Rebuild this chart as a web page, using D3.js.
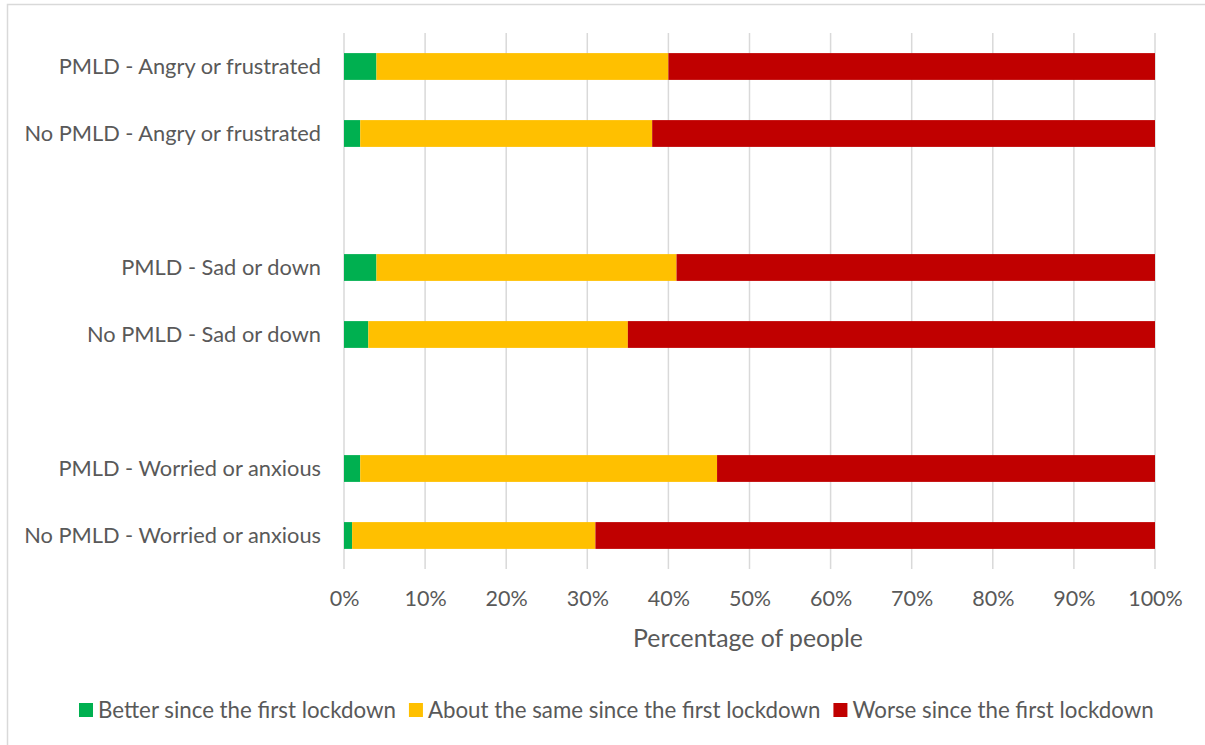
<!DOCTYPE html>
<html><head><meta charset="utf-8">
<script src="https://cdn.jsdelivr.net/npm/d3@7"></script>
<style>body{margin:0;background:#fff}svg{display:block}text{font-family:Lato,"Open Sans",sans-serif;fill:#595959}</style>
</head><body>
<svg id="c" width="1205" height="745"></svg>
<script>
const categories = ["PMLD - Angry or frustrated","No PMLD - Angry or frustrated"," ","PMLD - Sad or down","No PMLD - Sad or down","  ","PMLD - Worried or anxious","No PMLD - Worried or anxious"];
const better = [4,2,null,4,3,null,2,1];
const same = [36,36,null,37,32,null,44,30];
const worse = [60,62,null,59,65,null,54,69];
const seriesNames = ["Better since the first lockdown","About the same since the first lockdown","Worse since the first lockdown"];
const colors = ["#00B050","#FFC000","#C00000"];
const xTicks = [0,10,20,30,40,50,60,70,80,90,100];
const axisTitle = "Percentage of people";

const svg = d3.select("#c");
svg.append("path").attr("d","M7.5,745 V4.5 H1205").attr("fill","none").attr("stroke","#d9d9d9").attr("stroke-width",1.5);

const x = d3.scaleLinear().domain([0,100]).range([344,1155]);
const y = d3.scaleBand().domain(categories).range([33,569]).paddingInner(0.6).paddingOuter(0.3);

svg.append("g").selectAll("line").data(xTicks).join("line")
  .attr("x1",d=>x(d)).attr("x2",d=>x(d)).attr("y1",33).attr("y2",569)
  .attr("stroke","#d9d9d9").attr("stroke-width",1.5);

const rows = categories.map((c,i)=>({c,b:better[i],s:same[i],w:worse[i]})).filter(r=>r.b!=null);
const stack = d3.stack().keys(["b","s","w"])(rows);
svg.append("g").selectAll("g").data(stack).join("g").attr("fill",(d,i)=>colors[i])
  .selectAll("rect").data(d=>d).join("rect")
  .attr("x",d=>x(d[0])).attr("width",d=>x(d[1])-x(d[0]))
  .attr("y",d=>y(d.data.c)).attr("height",y.bandwidth());

svg.append("g").selectAll("text").data(categories).join("text")
  .attr("x",321).attr("y",d=>y(d)+y.bandwidth()/2).attr("dy","0.35em")
  .attr("text-anchor","end").attr("font-size",21.8).text(d=>d);

const xAxis = d3.axisBottom(x).tickValues(xTicks).tickFormat(d=>d+"%").tickSize(0).tickPadding(0);
const ax = svg.append("g").attr("transform","translate(0,590)").call(xAxis);
ax.select(".domain").remove();
ax.selectAll("text").attr("font-size",21.5).attr("dy","0.75em").style("font-family","Lato").attr("fill","#595959");

svg.append("text").attr("x",748).attr("y",638).attr("dy","0.35em").attr("text-anchor","middle")
  .attr("font-size",24.8).text(axisTitle);

const lg = svg.append("g");
let lx = 79;
seriesNames.forEach((n,i)=>{
  lg.append("rect").attr("x",lx).attr("y",703).attr("width",14).attr("height",14).attr("fill",colors[i]);
  const t = lg.append("text").attr("x",lx+19).attr("y",710).attr("dy","0.35em").attr("font-size",22.3).text(n);
  lx += 19 + t.node().getComputedTextLength() + 13;
});
</script>
</body></html>
